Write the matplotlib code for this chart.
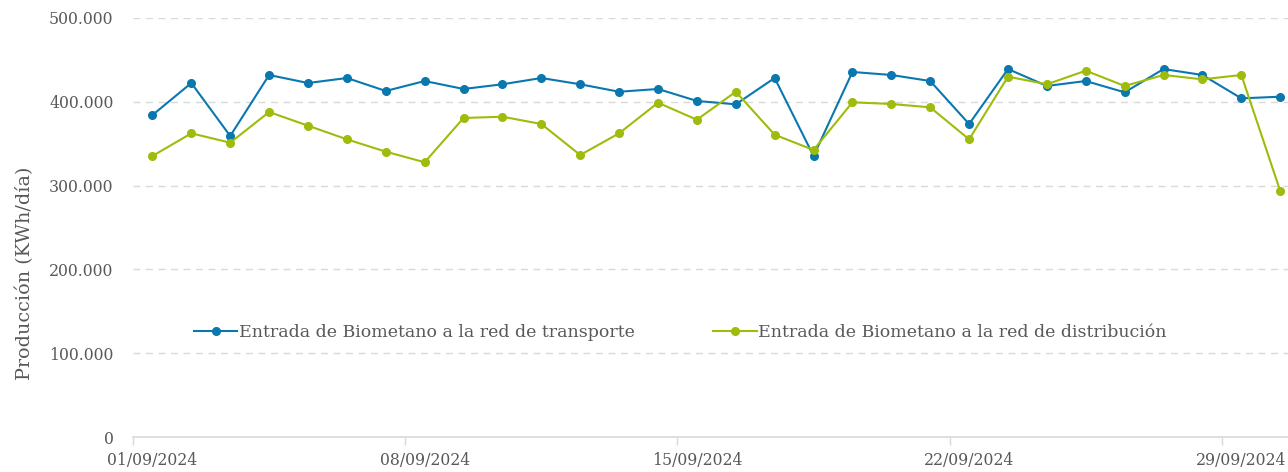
import matplotlib.pyplot as plt
from matplotlib.ticker import FuncFormatter

# daily production, September 2024 (KWh/day)
days = list(range(1, 31))
transporte = [384200, 422400, 359200, 432000, 422400, 428400, 412900, 424800,
              415300, 420900, 428400, 420900, 412000, 415300, 401000, 397000,
              428400, 335300, 435600, 432000, 424800, 373500, 439100, 418900,
              424800, 411300, 439100, 432000, 404100, 406100]
distribucion = [335300, 362400, 351200, 387800, 371500, 355200, 340500, 327800,
                380700, 382200, 373500, 336500, 362400, 398900, 378600, 412000,
                360700, 342500, 399400, 397400, 393400, 355200, 430000, 420900,
                437100, 418900, 432000, 426800, 432000, 293600]
tick_days = [1, 8, 15, 22, 29]
tick_labels = ["01/09/2024", "08/09/2024", "15/09/2024", "22/09/2024", "29/09/2024"]
series_names = ["Entrada de Biometano a la red de transporte",
                "Entrada de Biometano a la red de distribución"]

blue = "#0A78AE"
green = "#9DBC0C"
grey_txt = "#595959"

plt.rcParams['font.family'] = ['DejaVu Serif']

fig = plt.figure(figsize=(12.88, 4.72), dpi=100)
ax = fig.add_axes([133/1288, 1 - 437/472, 1 - 133/1288, (437 - 18)/472])

# categories are centred between the date ticks
x = [d - 0.5 for d in days]
ax.plot(x, transporte, color=blue, lw=1.5, marker="o", ms=5.5, label=series_names[0])
ax.plot(x, distribucion, color=green, lw=1.5, marker="o", ms=5.5, label=series_names[1])

ax.set_xlim(0, 29.7)
ax.set_ylim(0, 500000)
ax.set_yticks(range(0, 500001, 100000))
ax.yaxis.set_major_formatter(FuncFormatter(lambda v, p: f"{int(v):,}".replace(",", ".")))
# labels sit on the category, tick marks on the category boundary
ax.set_xticks([d - 0.5 for d in tick_days])
ax.set_xticklabels(tick_labels)
ax.set_xticks([d - 1 for d in tick_days], minor=True)

for v in range(100000, 500001, 100000):
    ax.axhline(v, color="#D9D9D9", lw=1, ls=(0, (5, 4)), zorder=0)

for s in ["top", "right", "left"]:
    ax.spines[s].set_visible(False)
ax.spines["bottom"].set_color("#D9D9D9")
ax.spines["bottom"].set_linewidth(1.2)
ax.tick_params(axis="x", which="major", length=0, labelcolor=grey_txt,
               labelsize=11.3, pad=11)
ax.tick_params(axis="x", which="minor", colors="#D9D9D9", length=6, width=1)
ax.tick_params(axis="y", length=0, labelcolor=grey_txt, labelsize=11.3, pad=14)

fig.text(25/1288, 1 - 273/472, "Producción (KWh/día)", color=grey_txt, fontsize=13.8,
         rotation=90, ha="center", va="center")

ax.legend(loc="center", bbox_to_anchor=(0.474, 0.25), ncol=2, frameon=False,
          handlelength=2.5, handletextpad=0.1, columnspacing=4.5,
          fontsize=12.5, labelcolor=grey_txt)

fig.savefig("out.png", dpi=100)
